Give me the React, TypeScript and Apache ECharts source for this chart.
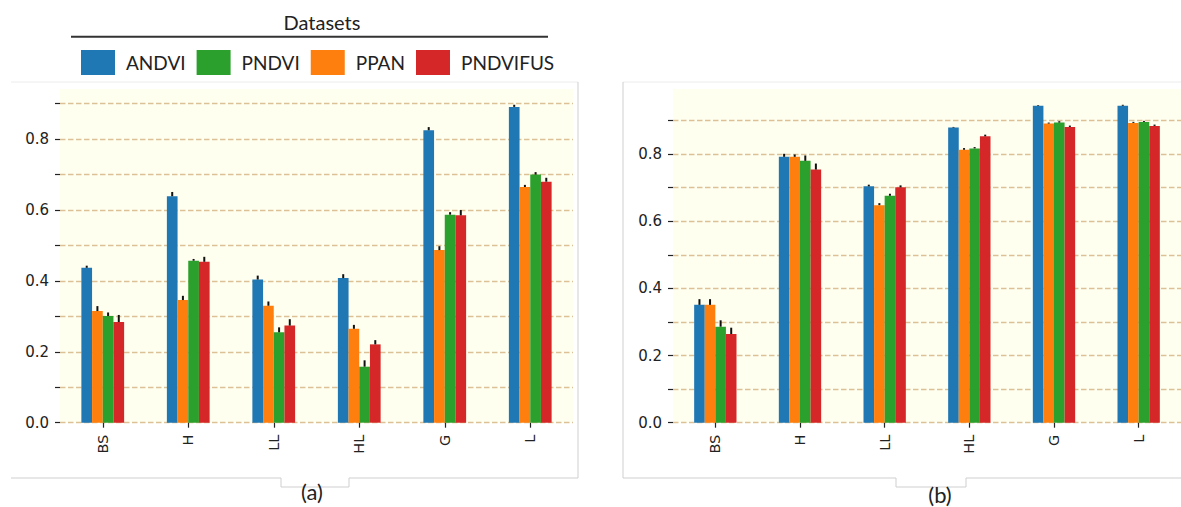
import { useEffect, useRef } from 'react'
import * as echarts from 'echarts'

// categories and datasets
const categories = ['BS', 'H', 'LL', 'HL', 'G', 'L']
const seriesNames = ['ANDVI', 'PPAN', 'PNDVI', 'PNDVIFUS'] // bar order
const legendOrder = ['ANDVI', 'PNDVI', 'PPAN', 'PNDVIFUS']
const colors: Record<string, string> = {
  ANDVI: '#1f77b4',
  PPAN: '#ff7f0e',
  PNDVI: '#2ca02c',
  PNDVIFUS: '#d62728'
}

// panel (a)
const aANDVI = [0.437, 0.639, 0.404, 0.408, 0.825, 0.891]
const aPPAN = [0.315, 0.346, 0.330, 0.265, 0.487, 0.665]
const aPNDVI = [0.301, 0.457, 0.255, 0.158, 0.587, 0.700]
const aPNDVIFUS = [0.284, 0.454, 0.274, 0.221, 0.585, 0.680]
const aErrANDVI = [0.006, 0.012, 0.011, 0.011, 0.009, 0.006]
const aErrPPAN = [0.014, 0.012, 0.012, 0.011, 0.011, 0.006]
const aErrPNDVI = [0.010, 0.005, 0.014, 0.018, 0.007, 0.007]
const aErrPNDVIFUS = [0.020, 0.014, 0.018, 0.012, 0.015, 0.011]

// panel (b)
const bANDVI = [0.351, 0.792, 0.704, 0.879, 0.944, 0.944]
const bPPAN = [0.351, 0.792, 0.648, 0.813, 0.891, 0.893]
const bPNDVI = [0.286, 0.780, 0.676, 0.817, 0.894, 0.896]
const bPNDVIFUS = [0.264, 0.754, 0.701, 0.853, 0.881, 0.884]
const bErrANDVI = [0.017, 0.009, 0.005, 0.002, 0.002, 0.003]
const bErrPPAN = [0.017, 0.007, 0.006, 0.005, 0.003, 0.003]
const bErrPNDVI = [0.019, 0.016, 0.006, 0.004, 0.004, 0.003]
const bErrPNDVIFUS = [0.019, 0.018, 0.006, 0.005, 0.004, 0.004]

// axis ticks
const yTickValues = [0, 0.1, 0.2, 0.3, 0.4, 0.5, 0.6, 0.7, 0.8, 0.9]
const yLabelValues = [0, 0.2, 0.4, 0.6, 0.8]
const aYMax = 0.9415
const bYMax = 0.994

const panelA: Record<string, number[][]> = {
  ANDVI: [aANDVI, aErrANDVI],
  PPAN: [aPPAN, aErrPPAN],
  PNDVI: [aPNDVI, aErrPNDVI],
  PNDVIFUS: [aPNDVIFUS, aErrPNDVIFUS]
}
const panelB: Record<string, number[][]> = {
  ANDVI: [bANDVI, bErrANDVI],
  PPAN: [bPPAN, bErrPPAN],
  PNDVI: [bPNDVI, bErrPNDVI],
  PNDVIFUS: [bPNDVIFUS, bErrPNDVIFUS]
}

const titleFont = 'Lato'

function xAxisFor(gridIndex: number) {
  return {
    type: 'category',
    gridIndex,
    data: categories,
    axisLine: { show: false },
    axisTick: { show: true, alignWithLabel: true, length: 5, lineStyle: { color: '#222', width: 1.2 } },
    axisLabel: { fontFamily: 'DejaVu Sans', fontSize: 14.5, color: '#222', rotate: 90, margin: 12 },
    splitLine: { show: false }
  }
}

function yAxisFor(gridIndex: number, max: number) {
  return {
    type: 'value',
    gridIndex,
    min: 0,
    max,
    axisLine: { show: false },
    axisTick: { show: true, length: 5, customValues: yTickValues, lineStyle: { color: '#222', width: 1.2 } },
    axisLabel: {
      fontFamily: 'DejaVu Sans',
      fontSize: 15,
      color: '#222',
      margin: 11,
      customValues: yLabelValues,
      formatter: (v: number) => v.toFixed(1)
    },
    splitLine: {
      show: true,
      lineStyle: { color: '#dcc197', width: 1.4, type: [5.5, 2.5] }
    }
  }
}

function buildSeries(panel: Record<string, number[][]>, axisIndex: number) {
  const out: any[] = []
  seriesNames.forEach((name, k) => {
    const [vals, errs] = panel[name]
    out.push({
      name,
      type: 'bar',
      xAxisIndex: axisIndex,
      yAxisIndex: axisIndex,
      data: vals,
      barGap: '0%',
      barCategoryGap: '50%',
      itemStyle: { color: colors[name] },
      z: 2
    })
    out.push({
      name,
      type: 'custom',
      xAxisIndex: axisIndex,
      yAxisIndex: axisIndex,
      data: vals.map((v, i) => [i, v, errs[i]]),
      encode: { x: 0, y: 1 },
      z: 3,
      renderItem: (_params: any, api: any) => {
        const cat = api.value(0)
        const v = api.value(1)
        const e = api.value(2)
        const base = api.coord([cat, v])
        const top = api.coord([cat, v + e])
        const band = api.size([1, 0])[0]
        const bw = (band * 0.5) / seriesNames.length
        const x = base[0] + (k - 1.5) * bw
        return {
          type: 'line',
          shape: { x1: x, y1: base[1], x2: x, y2: top[1] },
          style: { stroke: '#111', lineWidth: 2 }
        }
      }
    })
  })
  return out
}

export default function App() {
  const chartRef = useRef<HTMLDivElement>(null)

  useEffect(() => {
    if (!chartRef.current) return
    const chart = echarts.init(chartRef.current, null, { renderer: 'svg' })

    const borderColor = '#cfcfcf'
    chart.setOption({
      animation: false,
      backgroundColor: '#ffffff',
      legend: {
        data: legendOrder,
        left: 76,
        top: 45,
        itemWidth: 34,
        itemHeight: 25,
        itemGap: 11,
        icon: 'rect',
        selectedMode: false,
        textStyle: { fontFamily: titleFont, fontSize: 19, color: '#222', padding: [0, 0, 0, 6] }
      },
      grid: [
        { left: 60, top: 89, width: 513, bottom: 84.3, show: true, backgroundColor: '#fffff0', borderWidth: 0 },
        { left: 673, top: 89, width: 512.5, bottom: 84.3, show: true, backgroundColor: '#fffff0', borderWidth: 0 }
      ],
      xAxis: [xAxisFor(0), xAxisFor(1)],
      yAxis: [yAxisFor(0, aYMax), yAxisFor(1, bYMax)],
      series: [...buildSeries(panelA, 0), ...buildSeries(panelB, 1)],
      graphic: [
        {
          type: 'text',
          style: { text: 'Datasets', fontFamily: titleFont, fontSize: 20, fill: '#222', align: 'center', verticalAlign: 'middle' },
          x: 322,
          y: 22,
          z: 10
        },
        {
          type: 'line',
          shape: { x1: 71, y1: 36.7, x2: 548, y2: 36.7 },
          style: { stroke: '#333', lineWidth: 2 }
        },
        // panel (a) frame
        {
          type: 'polyline',
          shape: { points: [[11, 82], [578, 82]] },
          style: { stroke: '#ececec', lineWidth: 1, fill: null }
        },
        {
          type: 'polyline',
          shape: {
            points: [[578, 82], [578, 478], [349, 478], [349, 487], [281, 487], [281, 478], [11, 478]]
          },
          style: { stroke: borderColor, lineWidth: 1, fill: null }
        },
        // panel (b) frame
        {
          type: 'polyline',
          shape: { points: [[623, 82], [1181, 82]] },
          style: { stroke: '#ececec', lineWidth: 1, fill: null }
        },
        {
          type: 'polyline',
          shape: {
            points: [[623, 82], [623, 478], [896, 478], [896, 487], [966, 487], [966, 478], [1181, 478]]
          },
          style: { stroke: borderColor, lineWidth: 1, fill: null }
        },
        {
          type: 'text',
          style: { text: '(a)', fontFamily: titleFont, fontSize: 22, fill: '#222', align: 'center', verticalAlign: 'middle' },
          x: 312,
          y: 491
        },
        {
          type: 'text',
          style: { text: '(b)', fontFamily: titleFont, fontSize: 22, fill: '#222', align: 'center', verticalAlign: 'middle' },
          x: 940,
          y: 494
        }
      ]
    })

    return () => {
      chart.dispose()
    }
  }, [])

  return (
    <div style={{ position: 'fixed', left: 0, top: 0, width: 1181, height: 507, background: '#fff' }}>
      <div ref={chartRef} style={{ width: 1181, height: 507 }} />
    </div>
  )
}
